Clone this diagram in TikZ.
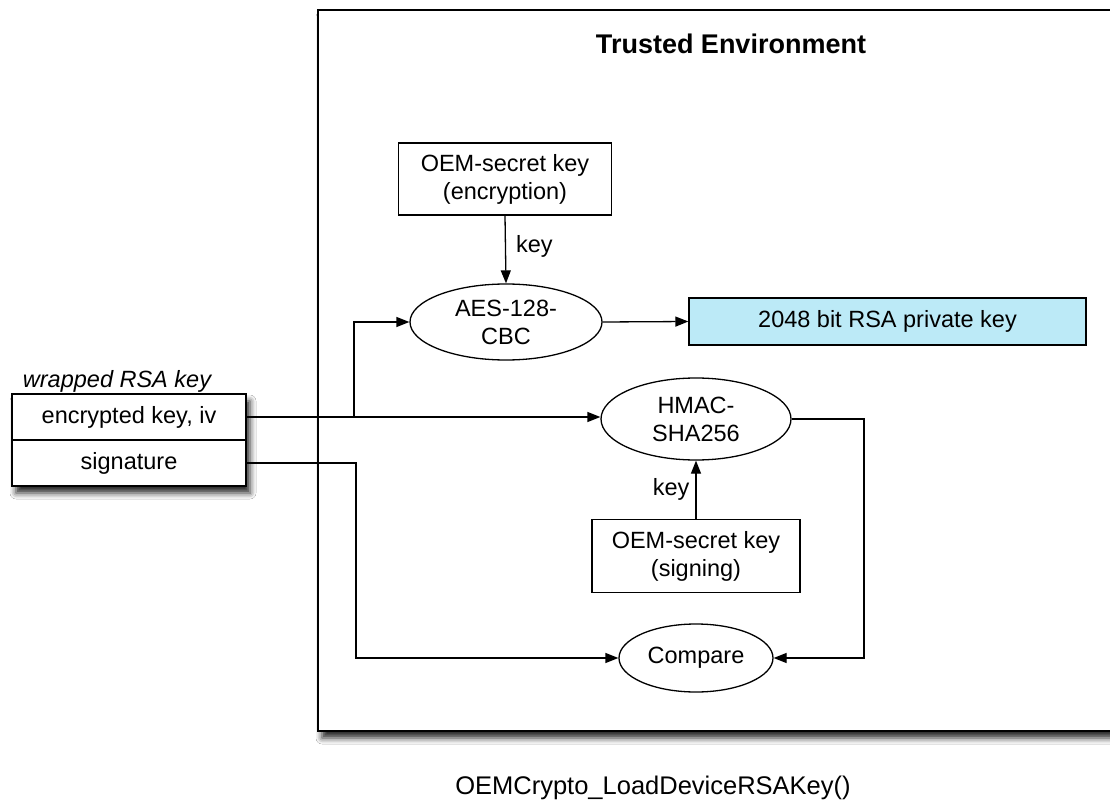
\documentclass[tikz,border=0pt]{standalone}
\usepackage{fontspec}
\setmainfont{Liberation Sans}
\usetikzlibrary{shapes.geometric,arrows.meta,shadows.blur}
\definecolor{rsablue}{RGB}{188,234,247}
\begin{document}
\begin{tikzpicture}[x=1pt,y=-1pt,
  every node/.style={font=\fontsize{23.5}{28}\selectfont, align=center, inner sep=0pt},
  box/.style={draw, line width=1.3pt, rectangle},
  oval/.style={draw, line width=1.3pt, ellipse},
  conn/.style={line width=1.3pt},
  arr/.style={conn, -{Triangle[length=13pt,width=10pt]}},
  shad/.style={blur shadow={shadow xshift=4pt, shadow yshift=-7pt, shadow blur radius=6pt, shadow opacity=85}}
]
\useasboundingbox (0,0) rectangle (1110,810);
\fill[white] (0,0) rectangle (1110,810);

% Trusted environment container
\node[box, shad, fill=white, minimum width=807pt, minimum height=721pt] (env) at (721.5,370.5) {};
\node[font=\fontsize{27}{32}\selectfont\bfseries] (title) at (731,44) {Trusted Environment};

% nodes
\node[box, minimum width=213pt, minimum height=72pt] (encbox) at (505,179) {OEM-secret key\\(encryption)};
\node[oval, minimum width=192pt, minimum height=76pt] (aes) at (506,322) {AES-128-\\CBC};
\node[box, fill=rsablue, minimum width=397pt, minimum height=47pt] (rsa) at (887.5,321.5) {2048 bit RSA private key};
\node[oval, minimum width=190pt, minimum height=82pt] (hmac) at (696,419) {HMAC-\\SHA256};
\node[box, minimum width=208pt, minimum height=73pt] (signbox) at (696,556) {OEM-secret key\\(signing)};
\node[oval, minimum width=154pt, minimum height=68pt] (cmp) at (696,658) {Compare};

% wrapped key record
\node[font=\fontsize{23.5}{28}\selectfont\itshape] (wlabel) at (117,381) {wrapped RSA key};
\node[box, shad, fill=white, minimum width=234pt, minimum height=92pt] (rec) at (129,440) {};
\node[box, minimum width=234pt, minimum height=46pt] (enc) at (129,417) {encrypted key, iv};
\node[box, minimum width=234pt, minimum height=46pt] (sig) at (129,463) {signature};

% bottom caption
\node[font=\fontsize{25.5}{30}\selectfont] (caption) at (653,788) {OEMCrypto\_LoadDeviceRSAKey()};

% helper coordinates
\coordinate (br) at (354,417);
\coordinate (sx) at (356,463);
\coordinate (rx) at (864,419);

% connectors
\draw[arr] (encbox.south) -- node[right=10pt, pos=0.45] (k1) {key} (aes.north);
\draw[arr] (aes.east) -- (rsa.west);
\draw[arr] (enc.east) -- (enc.east -| hmac.west);
\draw[arr] (br) |- (aes.west);
\draw[arr] (sig.east) -- (sx) |- (cmp.west);
\draw[arr] (hmac.east) -- (rx) |- (cmp.east);
\draw[arr] (signbox.north) -- node[left=6pt, pos=0.5] (k2) {key} (hmac.south);
\end{tikzpicture}
\end{document}
